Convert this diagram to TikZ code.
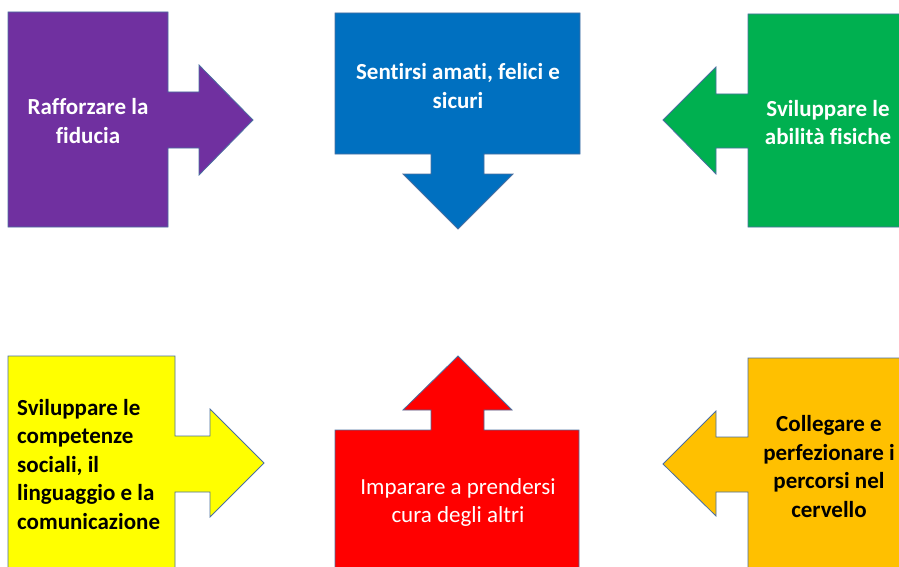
\documentclass[tikz,border=0pt]{standalone}
\usepackage{fontspec}
\setmainfont{Carlito}[Ligatures=NoCommon]
\usepackage{xcolor}
\definecolor{viola}{HTML}{7030A0}
\definecolor{blu}{HTML}{0070C0}
\definecolor{verde}{HTML}{00B050}
\definecolor{giallo}{HTML}{FFFF00}
\definecolor{rosso}{HTML}{FF0000}
\definecolor{arancio}{HTML}{FFC000}
\definecolor{bordo}{HTML}{4A6FA0}
\tikzset{
  forma/.style={draw=bordo, line width=0.8pt, line join=miter},
  testo/.style={inner sep=0pt, align=center, font=\fontsize{23}{28.5}\selectfont\bfseries},
}
\begin{document}
\begin{tikzpicture}[x=1pt,y=-1pt]
\clip (0,0) rectangle (899,567);
\fill[white] (0,0) rectangle (899,567);
% riga in alto
\draw[forma, fill=viola] (8,12) -- (168,12) -- (168,92) -- (199,92) -- (199,65) -- (253,120)
  -- (199,175) -- (199,148) -- (168,148) -- (168,227) -- (8,227) -- cycle;
\draw[forma, fill=blu] (335,13) -- (580,13) -- (580,154) -- (484,154) -- (484,174) -- (513,174)
  -- (458,229) -- (403,174) -- (431,174) -- (431,154) -- (335,154) -- cycle;
\draw[forma, fill=verde] (748,14) -- (910,14) -- (910,227) -- (748,227) -- (748,148) -- (716,148)
  -- (716,174) -- (663,120) -- (716,67) -- (716,94) -- (748,94) -- cycle;
% riga in basso
\draw[forma, fill=giallo] (8,356) -- (175,356) -- (175,436) -- (210,436) -- (210,409) -- (264,463)
  -- (210,517) -- (210,492) -- (175,492) -- (175,580) -- (8,580) -- cycle;
\draw[forma, fill=rosso] (335,430) -- (431,430) -- (431,410) -- (403,410) -- (458,356) -- (512,410)
  -- (484,410) -- (484,430) -- (579,430) -- (579,580) -- (335,580) -- cycle;
\draw[forma, fill=arancio] (748,358) -- (910,358) -- (910,580) -- (748,580) -- (748,492) -- (716,492)
  -- (716,516) -- (663,464) -- (716,411) -- (716,437) -- (748,437) -- cycle;
% testi
\node[testo, text=white](fiducia) at (88,121){Rafforzare la\\fiducia};
\node[testo, text=white](amati) at (458,86){Sentirsi amati, felici e\\sicuri};
\node[testo, text=white](fisiche) at (828,122.5){Sviluppare le\\abilità fisiche};
\node[testo, align=left, anchor=west](sociali) at (17,464.5){Sviluppare le\\competenze\\sociali, il\\linguaggio e la\\comunicazione};
\node[testo, text=white, font=\fontsize{23}{28.5}\selectfont](altri) at (458,502.5){Imparare a prendersi\\cura degli altri};
\node[testo](cervello) at (829,466.5){Collegare e\\perfezionare i\\percorsi nel\\cervello};
\end{tikzpicture}
\end{document}
